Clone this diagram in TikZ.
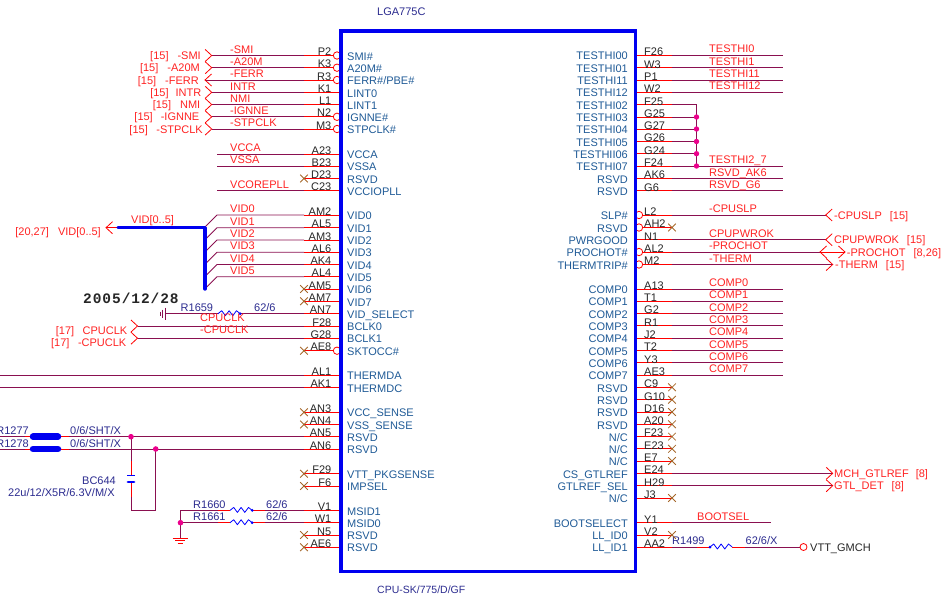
\documentclass[tikz,border=0pt]{standalone}
\usepackage{fontspec}
\setmainfont{Liberation Sans}
\newfontfamily\datefont{Liberation Mono}[LetterSpace=6.5]
\definecolor{sigred}{HTML}{FF2222}
\definecolor{wirem}{HTML}{8A1050}
\definecolor{pinblue}{HTML}{1F5A96}
\definecolor{indig}{HTML}{2B2B8F}
\definecolor{ncbrown}{HTML}{A5672A}
\definecolor{busblue}{HTML}{0000F0}
\tikzset{
  pinstub/.style={draw=red,line width=0.9pt},
  wire/.style={draw=wirem,line width=0.9pt},
  chev/.style={draw=red,line width=0.8pt},
  ncx/.style={draw=ncbrown,line width=0.8pt},
  bub/.style={draw=red,fill=white,line width=0.8pt},
  jn/.style={fill=magenta,draw=none},
  res/.style={draw=blue,line width=0.8pt,line join=round},
  lname/.style={anchor=base west,inner sep=0pt,text=pinblue,font=\fontsize{11}{13}\selectfont},
  rname/.style={anchor=base east,inner sep=0pt,text=pinblue,font=\fontsize{11}{13}\selectfont},
  lnum/.style={anchor=base east,inner sep=0pt,text=black!85,font=\fontsize{11}{13}\selectfont},
  rnum/.style={anchor=base west,inner sep=0pt,text=black!85,font=\fontsize{11}{13}\selectfont},
  siglab/.style={anchor=base west,inner sep=0pt,text=sigred,yshift=2.3pt,font=\fontsize{11}{13}\selectfont},
  offl/.style={anchor=base east,inner sep=0pt,text=sigred,yshift=-4pt,font=\fontsize{11}{13}\selectfont},
  offr/.style={anchor=base west,inner sep=0pt,text=sigred,yshift=-4pt,font=\fontsize{11}{13}\selectfont},
  partt/.style={anchor=base west,inner sep=0pt,text=indig,font=\fontsize{11}{13}\selectfont},
}
\newcommand\chevR[1]{\draw[chev] ([shift={(-6.5,-6)}]#1) -- (#1) -- ([shift={(-6.5,6)}]#1);}
\newcommand\chevL[1]{\draw[chev] ([shift={(6.5,-6)}]#1) -- (#1) -- ([shift={(6.5,6)}]#1);}
\newcommand\xmark[1]{\draw[ncx] ([shift={(-3.8,-3.8)}]#1) -- ([shift={(3.8,3.8)}]#1) ([shift={(-3.8,3.8)}]#1) -- ([shift={(3.8,-3.8)}]#1);}
\newcommand\resist[1]{\draw[res] (#1) -- ++(3.7,-3) -- ++(3.7,5) -- ++(3.7,-5) -- ++(3.7,5) -- ++(3.7,-5) -- ++(3.7,3);}
\begin{document}
\begin{tikzpicture}[x=1pt,y=-1pt]
\useasboundingbox (0,0) rectangle (945,598);
% ---- left pins
\foreach \yy/\pn/\nm in {
 55.5/P2/SMI\#,67.7/K3/A20M\#,80/R3/{FERR\#/PBE\#},92.3/K1/LINT0,104.5/L1/LINT1,116.8/N2/IGNNE\#,129/M3/STPCLK\#,
 154/A23/VCCA,166.2/B23/VSSA,178.5/D23/RSVD,190.8/C23/VCCIOPLL,
 215/AM2/VID0,227.7/AL5/VID1,240/AM3/VID2,252.2/AL6/VID3,264.5/AK4/VID4,276.7/AL4/VID5,289/AM5/VID6,301.3/AM7/VID7,313.7/AN7/VID\_SELECT,326/F28/BCLK0,338.2/G28/BCLK1,350.7/AE8/SKTOCC\#,
 375.2/AL1/THERMDA,387.5/AK1/THERMDC,
 412.2/AN3/VCC\_SENSE,424.5/AN4/VSS\_SENSE,436.7/AN5/RSVD,449/AN6/RSVD,
 473.7/F29/VTT\_PKGSENSE,486/F6/IMPSEL,510.4/V1/MSID1,522.7/W1/MSID0,535/N5/RSVD,547.2/AE6/RSVD}{
  \coordinate (L\pn) at (340,\yy);
  \coordinate (Lw\pn) at (304,\yy);
  \draw[pinstub] (L\pn) -- (Lw\pn);
  \node[lnum] (Ln\pn) at (331.5,\yy) {\pn};
  \node[lname] (Lt\pn) at (347,\yy+4.7) {\nm};
}
% ---- right pins
\foreach \yy/\pn/\nm in {
 55/F26/TESTHI00,67.7/W3/TESTHI01,80/P1/TESTHI11,92.2/W2/TESTHI12,104.7/F25/TESTHI02,117/G25/TESTHI03,129/G27/TESTHI04,141.5/G26/TESTHI05,153.7/G24/TESTHII06,166/F24/TESTHI07,178.5/AK6/RSVD,190.7/G6/RSVD,
 215/L2/SLP\#,227.5/AH2/RSVD,239.7/N1/PWRGOOD,252/AL2/PROCHOT\#,264.5/M2/THERMTRIP\#,
 289/A13/COMP0,301.2/T1/COMP1,313.5/G2/COMP2,325.8/R1/COMP3,338/J2/COMP4,350.5/T2/COMP5,362.7/Y3/COMP6,375/AE3/COMP7,
 387.3/C9/RSVD,399.7/G10/RSVD,412/D16/RSVD,424.3/A20/RSVD,436.6/F23/{N/C},448.8/E23/{N/C},461/E7/{N/C},473.3/E24/CS\_GTLREF,485.7/H29/GTLREF\_SEL,498/J3/{N/C},
 522.7/Y1/BOOTSELECT,535/V2/LL\_ID0,547/AA2/LL\_ID1}{
  \coordinate (R\pn) at (635,\yy);
  \coordinate (Rw\pn) at (672,\yy);
  \draw[pinstub] (R\pn) -- (Rw\pn);
  \node[rnum] (Rn\pn) at (644,\yy+0.3) {\pn};
  \node[rname] (Rt\pn) at (628,\yy+4.7) {\nm};
}
% ---- left signal wires ending in off-page connectors
\foreach \pn/\lab in {P2/-SMI,K3/-A20M,K1/INTR,L1/NMI,N2/-IGNNE,M3/-STPCLK}{
  \coordinate (E\pn) at (211.7,0 |- Lw\pn);
  \draw[wire] (Lw\pn) -- (E\pn);
  \chevR{E\pn}
  \node[siglab] (S\pn) at (230,0 |- Lw\pn) {\lab};
}
\coordinate (ER3) at (205,0 |- LwR3);
\draw[wire] (LwR3) -- (ER3);
\chevL{ER3}
\node[siglab] (SR3) at (230,0 |- LwR3) {-FERR};
\node[offl] (OP2) at (201,0 |- LwP2) {[15]\hspace*{9pt}-SMI};
\node[offl] (OK3) at (200,0 |- LwK3) {[15]\hspace*{9pt}-A20M};
\node[offl] (OR3) at (199,0 |- LwR3) {[15]\hspace*{9pt}-FERR};
\node[offl] (OK1) at (201.5,0 |- LwK1) {[15]\hspace*{7pt}INTR};
\node[offl] (OL1) at (200.5,0 |- LwL1) {[15]\hspace*{9pt}NMI};
\node[offl] (ON2) at (199.5,0 |- LwN2) {[15]\hspace*{8pt}-IGNNE};
\node[offl] (OM3) at (203,0 |- LwM3) {[15]\hspace*{8.5pt}-STPCLK};
% ---- left plain wires
\foreach \pn/\lab in {A23/VCCA,B23/VSSA,C23/VCOREPLL}{
  \coordinate (E\pn) at (217,0 |- Lw\pn);
  \draw[wire] (Lw\pn) -- (E\pn);
  \node[siglab] (S\pn) at (230,0 |- Lw\pn) {\lab};
}
% ---- VID bus
\coordinate (busA) at (118,227.7);
\coordinate (busB) at (205,227.7);
\coordinate (busC) at (205,289);
\coordinate (busTip) at (106,227.7);
\foreach \pn/\lab in {AM2/VID0,AL5/VID1,AM3/VID2,AL6/VID3,AK4/VID4,AL4/VID5}{
  \coordinate (E\pn) at (217,0 |- Lw\pn);
  \draw[wire] (Lw\pn) -- (E\pn) -- ++(-12,12);
  \node[siglab] (S\pn) at (230,0 |- Lw\pn) {\lab};
}
\draw[chev] (busTip) -- (busA);
\chevL{busTip}
\draw[draw=busblue,line width=3.4pt,line join=round,line cap=round] (busA) -- (busB) -- (busC);
\node[siglab] (busLab) at (131,225.5) {VID[0..5]};
\node[offl,yshift=0pt] (busOff) at (101,231.5) {[20,27]\hspace*{9pt}VID[0..5]};
% ---- date
\node[anchor=base west,inner sep=0pt,font=\datefont\bfseries\fontsize{14.5}{16}\selectfont,text=black!85] (dateT) at (83,303.5) {2005/12/28};
% ---- R1659
\coordinate (gndA) at (165,313.7);
\coordinate (rA) at (218,313.7);
\coordinate (rB) at (240.2,313.7);
\draw[wire] (gndA) -- (rA);
\draw[wire] (rB) -- (LwAN7);
\resist{rA}
\fill[blue] (rB) circle (1.5);
\draw[draw=wirem,line width=0.8pt] (165,307.5) -- (165,320) (162.5,309.5) -- (162.5,318) (160,311.5) -- (160,316);
\node[partt] (R1659t) at (180.5,311) {R1659};
\node[partt] (R1659v) at (254,311) {62/6};
% ---- BCLK
\coordinate (EF28) at (137.5,0 |- LwF28);
\coordinate (EG28) at (137.5,0 |- LwG28);
\draw[wire] (LwF28) -- (EF28);
\draw[wire] (LwG28) -- (EG28);
\chevR{EF28}\chevR{EG28}
\node[siglab,yshift=-0pt] (SF28) at (200,324) {CPUCLK};
\node[siglab,yshift=-0pt] (SG28) at (200,336) {-CPUCLK};
\node[offl,yshift=-4.5pt] (OF28) at (127.5,0 |- LwF28) {[17]\hspace*{8.5pt}CPUCLK};
\node[offl,yshift=-4.5pt] (OG28) at (126.5,0 |- LwG28) {[17]\hspace*{8.5pt}-CPUCLK};
% ---- THERM
\coordinate (EAL1) at (0,0 |- LwAL1);
\coordinate (EAK1) at (0,0 |- LwAK1);
\draw[wire] (LwAL1) -- (EAL1);
\draw[wire] (LwAK1) -- (EAK1);
% ---- jumpers
\coordinate (J1a) at (33,436.7);\coordinate (J1b) at (58,436.7);
\coordinate (J2a) at (33,449);\coordinate (J2b) at (58,449);
\coordinate (dot1) at (131,436.7);\coordinate (dot2) at (155.7,449);
\draw[wire] (0,436.7) -- (J1a);
\draw[wire] (0,449) -- (J2a);
\draw[pinstub] (25,436.7) -- (J1a) (25,449) -- (J2a);
\draw[wire] (J1b) -- (LwAN5);
\draw[wire] (J2b) -- (LwAN6);
\draw[pinstub] (J1b) -- (69,436.7) (J2b) -- (69,449);
\draw[draw=busblue,line width=6.5pt,line cap=round] (J1a) -- (J1b);
\draw[draw=busblue,line width=6.5pt,line cap=round] (J2a) -- (J2b);
\node[partt,anchor=base east] (R1277t) at (29,434.5) {R1277};
\node[partt,anchor=base east] (R1278t) at (29,447) {R1278};
\node[partt] (J1v) at (70,434) {0/6/SHT/X};
\node[partt] (J2v) at (70,447) {0/6/SHT/X};
% ---- BC644
\coordinate (capT) at (131,475.5);
\coordinate (capB) at (131,482);
\coordinate (capE) at (131,510.3);
\coordinate (capF) at (155.7,510.3);
\draw[wire] (dot1) -- (capT);
\draw[wire] (capB) -- (capE) -- (capF) -- (dot2);
\draw[pinstub] (131,461) -- (capT) (capB) -- (131,497);
\draw[draw=blue,line width=1.2pt] (127,475.5) -- (135,475.5);
\draw[draw=blue,line width=2.8pt,line cap=round] (128,482) -- (134,482);
\fill[jn] (dot1) circle (2.8);
\fill[jn] (dot2) circle (2.8);
\node[partt] (BCt) at (82,484) {BC644};
\node[partt] (BCv) at (8,496) {22u/12/X5R/6.3V/M/X};
% ---- MSID
\coordinate (m1) at (180.5,510.4);\coordinate (m2) at (180.5,522.7);\coordinate (mg) at (180.5,538);
\coordinate (r60a) at (230,510.4);\coordinate (r60b) at (252.2,510.4);
\coordinate (r61a) at (230,522.7);\coordinate (r61b) at (252.2,522.7);
\draw[wire] (r60a) -- (m1) -- (mg);
\draw[wire] (r61a) -- (m2);
\draw[wire] (r60b) -- (LwV1);
\draw[wire] (r61b) -- (LwW1);
\draw[pinstub] (218,510.4) -- (r60a) (r60b) -- (265,510.4) (218,522.7) -- (r61a) (r61b) -- (265,522.7);
\resist{r60a}\resist{r61a}
\fill[blue] (r60b) circle (1.5);\fill[blue] (r61b) circle (1.5);
\fill[jn] (m2) circle (2.8);
\draw[chev] (172.7,538) -- (187.7,538) (175.3,540.7) -- (185,540.7) (177.7,543.3) -- (182.7,543.3);
\node[partt] (R1660t) at (193,508.7) {R1660};
\node[partt] (R1660v) at (266,508.7) {62/6};
\node[partt] (R1661t) at (193,520.7) {R1661};
\node[partt] (R1661v) at (266,520.7) {62/6};
% ---- right plain wires
\foreach \pn/\lab in {F26/TESTHI0,W3/TESTHI1,P1/TESTHI11,W2/TESTHI12,F24/TESTHI2\_7,AK6/RSVD\_AK6,G6/RSVD\_G6,
  A13/COMP0,T1/COMP1,G2/COMP2,R1/COMP3,J2/COMP4,T2/COMP5,Y3/COMP6,AE3/COMP7}{
  \coordinate (E\pn) at (783,0 |- Rw\pn);
  \draw[wire] (Rw\pn) -- (E\pn);
  \node[siglab] (S\pn) at (709,0 |- Rw\pn) {\lab};
}
% ---- TESTHI strap
\coordinate (tA) at (696.5,0 |- RwF25);
\coordinate (tB) at (696.5,0 |- RwF24);
\draw[wire] (RwF25) -- (tA) -- (tB);
\foreach \pn in {G25,G27,G26,G24}{
  \coordinate (t\pn) at (696.5,0 |- Rw\pn);
  \draw[wire] (Rw\pn) -- (t\pn);
  \fill[jn] (t\pn) circle (2.7);
}
\fill[jn] (tB) circle (2.7);
% ---- right off-page
\coordinate (EL2) at (825.7,0 |- RwL2);
\coordinate (EN1) at (825.7,0 |- RwN1);
\coordinate (EAL2) at (845,0 |- RwAL2);
\coordinate (EAL2b) at (820,0 |- RwAL2);
\coordinate (EM2) at (832.7,0 |- RwM2);
\coordinate (EE24) at (832.7,0 |- RwE24);
\coordinate (EH29) at (832.7,0 |- RwH29);
\foreach \pn in {L2,N1,AL2,M2,E24,H29}{\draw[wire] (Rw\pn) -- (E\pn);}
\draw[chev] (EAL2b) -- (EAL2);
\chevL{EL2}\chevL{EN1}\chevL{EAL2b}\chevR{EAL2}\chevR{EM2}\chevR{EE24}\chevR{EH29}
\node[siglab] (SL2) at (709,0 |- RwL2) {-CPUSLP};
\node[siglab] (SN1) at (709,0 |- RwN1) {CPUPWROK};
\node[siglab] (SAL2) at (709,0 |- RwAL2) {-PROCHOT};
\node[siglab] (SM2) at (709,0 |- RwM2) {-THERM};
\node[offr] (OL2) at (834,0 |- RwL2) {-CPUSLP\hspace*{8pt}[15]};
\node[offr] (ON1) at (834,0 |- RwN1) {CPUPWROK\hspace*{8pt}[15]};
\node[offr] (OAL2) at (846.7,0 |- RwAL2) {-PROCHOT\hspace*{8pt}[8,26]};
\node[offr] (OM2) at (835,0 |- RwM2) {-THERM\hspace*{8pt}[15]};
\node[offr] (OE24) at (834,0 |- RwE24) {MCH\_GTLREF\hspace*{7pt}[8]};
\node[offr] (OH29) at (834,0 |- RwH29) {GTL\_DET\hspace*{8pt}[8]};
% ---- BOOTSEL and VTT
\coordinate (EY1) at (771,0 |- RwY1);
\draw[wire] (RwY1) -- (EY1);
\node[siglab] (SY1) at (697,0 |- RwY1) {BOOTSEL};
\coordinate (r99a) at (710,547);\coordinate (r99b) at (732.2,547);\coordinate (vtt) at (803.5,547);
\draw[wire] (RwAA2) -- (r99a);
\draw[wire] (r99b) -- (vtt);
\draw[pinstub] (697,547) -- (r99a) (r99b) -- (745,547);
\resist{r99a}
\fill[blue] (r99a) circle (1.5);
\draw[bub] (vtt) circle (3.5);
\node[anchor=base west,inner sep=0pt,text=black!85,font=\fontsize{11}{13}\selectfont] (vttT) at (810,551) {VTT\_GMCH};
\node[partt] (R1499t) at (672,544.5) {R1499};
\node[partt] (R1499v) at (745.5,544.5) {62/6/X};
% ---- no-connect marks
\foreach \pn in {D23,AM5,AM7,AE8,AN3,AN4,F29,F6,N5,AE6}{\xmark{Lw\pn}}
\foreach \pn in {AH2,C9,G10,D16,A20,F23,E23,E7,J3,V2}{\xmark{Rw\pn}}
% ---- inversion bubbles
\foreach \pn in {P2,K3,R3,N2,M3,AE8}{\draw[bub] ([xshift=-3pt]L\pn) circle (3.7);}
\foreach \pn in {L2,AH2,AL2,M2}{\draw[bub] ([xshift=4pt]R\pn) circle (3.7);}
% ---- chip body
\node[draw=busblue,line width=3.2pt,minimum width=294.3pt,minimum height=540.3pt,inner sep=0pt,outer sep=0pt,anchor=north west] (cpu) at (341,31) {};
\node[partt] (cpuTop) at (377,15.5) {LGA775C};
\node[partt,font=\fontsize{10.5}{13}\selectfont] (cpuBot) at (377,593.7) {CPU-SK/775/D/GF};
\end{tikzpicture}
\end{document}
